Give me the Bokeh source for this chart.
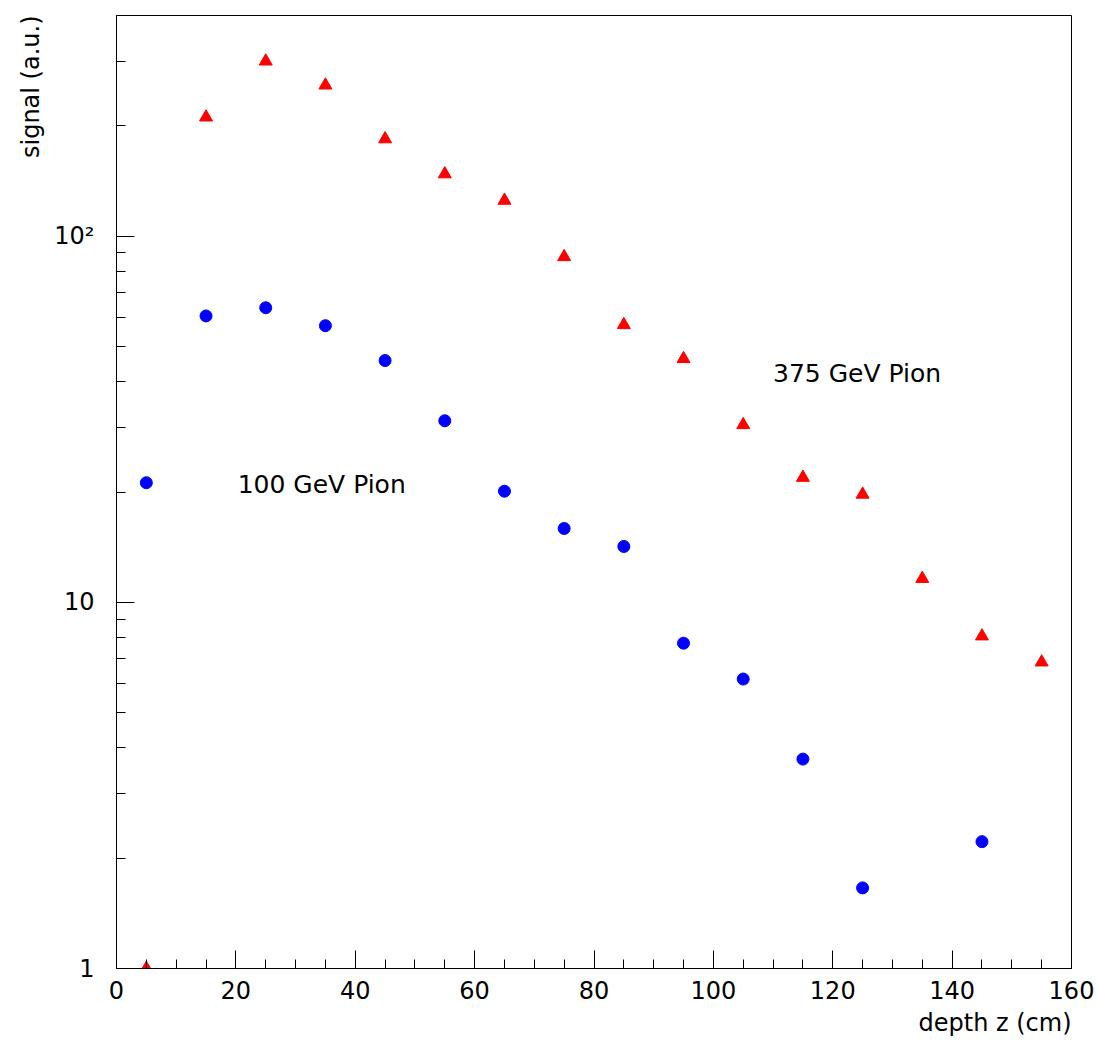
from bokeh.plotting import figure
from bokeh.models import Label, SingleIntervalTicker, LogTicker, Range1d, Title
from bokeh.embed import file_html
from bokeh.resources import INLINE

# data
depth_100 = [5, 15, 25, 35, 45, 55, 65, 75, 85, 95, 105, 115, 125, 145]
signal_100 = [21.2, 60.5, 63.7, 56.9, 45.7, 31.3, 20.1, 15.9, 14.2, 7.73, 6.17, 3.73, 1.66, 2.22]
depth_375 = [5, 15, 25, 35, 45, 55, 65, 75, 85, 95, 105, 115, 125, 135, 145, 155]
signal_375 = [1.0, 211, 300, 258, 184, 147.6, 125, 87.7, 57.2, 46.2, 30.5, 21.9, 19.7, 11.6, 8.08, 6.86]
y_tick_labels = {1: "1", 10: "10", 100: "10\u00b2"}

FONT = "DejaVu Sans"

p = figure(width=1097, height=1043, y_axis_type="log",
           x_range=Range1d(0, 160), y_range=Range1d(1, 400),
           output_backend="svg", toolbar_location=None,
           min_border_left=116, min_border_right=26, min_border_top=15, min_border_bottom=75)
p.xgrid.visible = False
p.ygrid.visible = False
p.outline_line_color = "black"
p.outline_line_width = 1
p.background_fill_color = "white"
p.border_fill_color = "white"

p.xaxis.ticker = SingleIntervalTicker(interval=20, num_minor_ticks=4)
p.yaxis.ticker = LogTicker(desired_num_ticks=3, num_minor_ticks=10)
p.yaxis.major_label_overrides = y_tick_labels

for ax in (p.xaxis, p.yaxis):
    ax.major_tick_in = 18
    ax.major_tick_out = 0
    ax.minor_tick_in = 9
    ax.minor_tick_out = 0
    ax.axis_line_color = "black"
    ax.major_tick_line_color = "black"
    ax.minor_tick_line_color = "black"
    ax.major_label_text_font = FONT
    ax.major_label_text_font_size = "24px"
    ax.major_label_text_color = "black"
p.xaxis.major_label_standoff = 12
p.yaxis.major_label_standoff = 22

p.scatter(depth_100, signal_100, marker="circle", size=12, color="blue")
p.scatter(depth_375, signal_375, marker="triangle", size=13, color="red")

p.add_layout(Label(x=20.3, y=21, text="100 GeV Pion", text_font=FONT, text_font_size="25px",
                   text_baseline="middle", text_align="left", text_color="black"))
p.add_layout(Label(x=110, y=42, text="375 GeV Pion", text_font=FONT, text_font_size="25px",
                   text_baseline="middle", text_align="left", text_color="black"))

# axis titles as side titles
p.add_layout(Title(text="depth z (cm)", align="right", text_font=FONT, text_font_size="24px",
                   text_font_style="normal", text_color="black", standoff=10, offset=0), "below")
p.add_layout(Title(text="signal (a.u.)", align="right", text_font=FONT, text_font_size="24px",
                   text_font_style="normal", text_color="black", standoff=14, offset=0), "left")

open("out.html", "w").write(file_html(p, INLINE))
